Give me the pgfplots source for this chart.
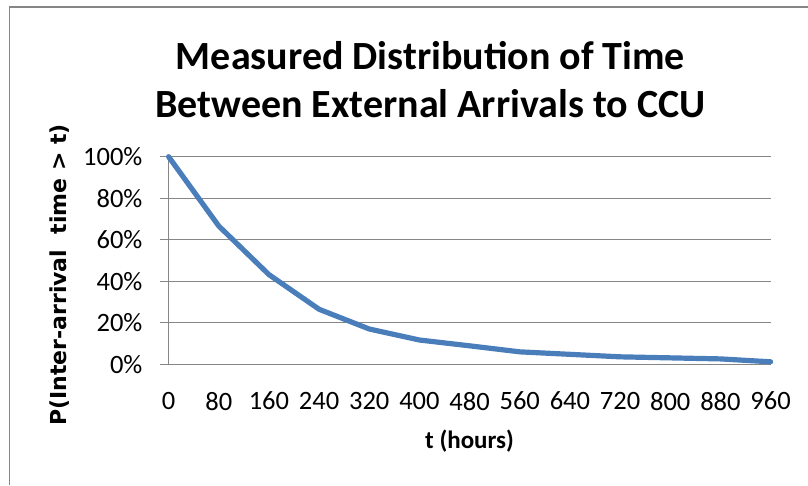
\documentclass[border=0pt]{standalone}
\usepackage{fontspec}
\setmainfont{Carlito}
\newfontfamily\dejavu{DejaVu Sans}
\usepackage{pgfplots}
\pgfplotsset{compat=1.18}
\definecolor{linec}{HTML}{4A7EBB}
\definecolor{gridc}{HTML}{868686}
\begin{document}
\begin{tikzpicture}[x=1pt,y=1pt]
\path[use as bounding box] (0,0) rectangle (808,485);
\draw[gridc, line width=1.3pt] (9.5,0) -- (9.5,478) -- (808,478);
\node[font=\fontsize{40}{48}\selectfont\bfseries, align=center, anchor=center] at (430.5,405) {Measured Distribution of Time\\Between External Arrivals to CCU};
\begin{axis}[
  at={(168.6pt,120.7pt)}, anchor=south west,
  scale only axis, width=602pt, height=207.6pt,
  xmin=0, xmax=960, ymin=0, ymax=100,
  xtick={0,80,...,960},
  ytick={0,20,...,100},
  yticklabels={0\%,20\%,40\%,60\%,80\%,100\%},
  /pgf/number format/assume math mode=true,
  axis x line*=bottom, axis y line*=left,
  axis line style={gridc, line width=1pt, -},
  ymajorgrids, major grid style={gridc, line width=1pt},
  tick align=inside, major tick length=8.6pt,
  ytick style={gridc, line width=1pt, xshift=-8.6pt},
  xtick style={draw=none},
  ticklabel style={font=\fontsize{26.5}{30}\selectfont, inner sep=0pt},
  yticklabel style={anchor=east, xshift=-26pt},
  xticklabel style={anchor=north, yshift=-27.4pt},
  xlabel={t (hours)},
  xlabel style={font=\fontsize{25}{28}\selectfont\bfseries, anchor=center, at={(axis description cs:0.5,-0.3695)}},
  ylabel={P(Inter-arrival\ \ time > t)},
  ylabel style={font=\fontsize{22}{26}\selectfont\dejavu\bfseries, anchor=center, at={(axis description cs:-0.1812,0.43)}},
  clip=false,
]
\addplot[linec, line width=5.2pt, line join=round, line cap=round] coordinates {
(0,100) (80,66.6) (160,43.2) (240,26.5) (320,17) (400,11.7) (480,8.9)
(560,6) (640,4.8) (720,3.6) (800,3.1) (880,2.6) (960,1.2)
};
\end{axis}
\end{tikzpicture}
\end{document}
